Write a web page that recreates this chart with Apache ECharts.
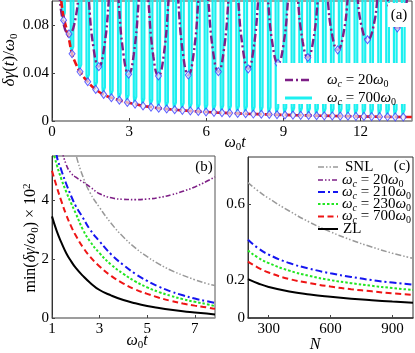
<!DOCTYPE html>
<html>
<head>
<meta charset="utf-8">
<script src="https://cdn.jsdelivr.net/npm/echarts@6/dist/echarts.min.js"></script>
<style>
  html, body { margin: 0; padding: 0; background: #fff; }
  #chart { width: 415px; height: 353px; }
</style>
</head>
<body>
<div id="chart"></div>
<script>
  // ---- panel (a): delta gamma(t)/omega0 versus omega0 t ----
  // dips of the wc = 700 w0 curve (cyan)
  const cyanDipT = [0.45, 0.78, 1.09, 1.39, 1.70, 2.01, 2.31, 2.62, 2.93, 3.23, 3.54, 3.85, 4.15, 4.46, 4.77,
    5.07, 5.38, 5.69, 5.99, 6.30, 6.61, 6.91, 7.22, 7.53, 7.83, 8.14, 8.45, 8.75, 9.06, 9.37, 9.67, 9.98,
    10.29, 10.59, 10.90, 11.21, 11.51, 11.82, 12.13, 12.43, 12.74, 13.05, 13.35, 13.66];
  const cyanDipMin = [0.084, 0.056, 0.041, 0.0327, 0.0263, 0.0221, 0.0194, 0.0173, 0.0155, 0.0141, 0.0126, 0.0116,
    0.0107, 0.0100, 0.0094, 0.0089, 0.0084, 0.0079, 0.0075, 0.0072, 0.0069, 0.0066, 0.0063, 0.0061, 0.0058,
    0.0056, 0.0054, 0.0052, 0.0050, 0.0049, 0.0047, 0.0046, 0.0044, 0.0043, 0.0042, 0.0041, 0.0040, 0.0039,
    0.0038, 0.0037, 0.0036, 0.0035, 0.0034, 0.0033];
  // profile of one dip (offset from the dip, rise above its minimum); the curve leaves the frame between dips
  const cyanProfileDt = [-0.056, -0.048, -0.028, 0, 0.028, 0.048, 0.056];
  const cyanProfileRise = [0.12, 0.006, 0.0015, 0, 0.0015, 0.006, 0.12];

  // wc = 20 w0 (purple dash-dot)
  const purpleAT = [0.08, 0.26, 0.46, 0.66, 0.86, 1.06, 1.24, 1.42, 1.62, 1.82, 2.02, 2.22, 2.40, 2.58, 2.78, 2.98,
    3.18, 3.38, 3.56, 3.74, 3.94, 4.14, 4.34, 4.54, 4.72, 4.90, 5.10, 5.30, 5.50, 5.70, 5.88, 6.07, 6.27, 6.47,
    6.67, 6.87, 7.05, 7.23, 7.43, 7.63, 7.83, 8.03, 8.21, 8.39, 8.59, 8.79, 8.99, 9.19, 9.37, 9.55, 9.75, 9.95,
    10.15, 10.35, 10.53, 10.71, 10.91, 11.11, 11.31, 11.51, 11.69, 11.87, 12.07, 12.27, 12.47, 12.67, 12.85,
    13.03, 13.23, 13.43, 13.63, 13.83, 14.0];
  const purpleAV = [0.16, 0.112, 0.080, 0.0726, 0.080, 0.112, 0.16, 0.104, 0.060, 0.0453, 0.060, 0.104, 0.16,
    0.103, 0.0555, 0.039, 0.0555, 0.103, 0.16, 0.103, 0.054, 0.0375, 0.054, 0.103, 0.16, 0.103, 0.055, 0.0383,
    0.055, 0.103, 0.16, 0.103, 0.057, 0.0411, 0.057, 0.103, 0.16, 0.104, 0.059, 0.0434, 0.059, 0.104, 0.16,
    0.104, 0.062, 0.048, 0.062, 0.104, 0.16, 0.105, 0.066, 0.0529, 0.066, 0.105, 0.16, 0.105, 0.070, 0.0593,
    0.070, 0.105, 0.16, 0.106, 0.076, 0.0677, 0.076, 0.106, 0.16, 0.107, 0.084, 0.0775, 0.084, 0.107, 0.16];
  const purpleDipT = [0.66, 1.82, 2.98, 4.14, 5.30, 6.47, 7.63, 8.79, 9.95, 11.11, 12.27, 13.43];
  const purpleDipMin = [0.0726, 0.0453, 0.039, 0.0375, 0.0383, 0.0411, 0.0434, 0.048, 0.0529, 0.0593, 0.0677, 0.0775];

  // envelope (red dashed)
  const redAT = [0.36, 0.44, 0.55, 0.66, 0.78, 0.9, 1.09, 1.39, 1.7, 2.0, 2.32, 2.64, 2.94, 3.26, 3.55, 3.85, 4.13,
    5, 6, 7, 8, 9, 10, 11, 12, 13, 14];
  const redAV = [0.1, 0.088, 0.078, 0.068, 0.056, 0.049, 0.041, 0.0327, 0.0263, 0.0221, 0.0193, 0.0172, 0.0154,
    0.014, 0.0125, 0.0116, 0.0107, 0.009, 0.0075, 0.0065, 0.0057, 0.0051, 0.0046, 0.0042, 0.0038, 0.0035, 0.0033];

  const xTicksA = ['0', '3', '6', '9', '12'];
  const yTicksA = ['0', '0.04', '0.08'];

  // ---- panel (b): min(delta gamma / w0) x 10^2 versus w0 t ----
  const tB = [1, 1.2, 1.4, 1.6, 1.8, 2, 2.3, 2.6, 3, 3.5, 4, 4.5, 5, 5.5, 6, 6.5, 7, 7.5, 7.85];
  const snlB = [11, 9.5, 8.2, 7.1, 6.2, 5.55, 4.8, 4.25, 3.75, 3.2, 2.75, 2.38, 2.08, 1.83, 1.62, 1.45, 1.3, 1.17, 1.1];
  const w20B = [8.0, 6.8, 5.8, 5.2, 4.92, 4.78, 4.62, 4.45, 4.22, 4.08, 4.03, 4.02, 4.04, 4.09, 4.18, 4.3, 4.45, 4.64, 4.79];
  const w210B = [6.6, 5.5, 5.0, 4.55, 4.15, 3.8, 3.4, 3.0, 2.6, 2.15, 1.8, 1.5, 1.26, 1.06, 0.9, 0.77, 0.66, 0.57, 0.51];
  const w230B = [5.8, 5.2, 4.7, 4.28, 3.9, 3.55, 3.0, 2.6, 2.2, 1.8, 1.5, 1.24, 1.04, 0.88, 0.75, 0.64, 0.55, 0.47, 0.40];
  const w700B = [5.0, 4.45, 3.95, 3.5, 3.12, 2.8, 2.4, 2.08, 1.75, 1.42, 1.17, 0.97, 0.82, 0.69, 0.58, 0.49, 0.42, 0.36, 0.31];
  const zlB = [3.45, 2.95, 2.55, 2.2, 1.93, 1.7, 1.43, 1.2, 0.95, 0.76, 0.61, 0.5, 0.41, 0.34, 0.28, 0.23, 0.19, 0.15, 0.12];
  const xTicksB = ['1', '3', '5', '7'];
  const yTicksB = ['0', '2', '4'];

  // ---- panel (c): same quantity versus N ----
  const nC = [200, 250, 300, 400, 500, 600, 700, 800, 900, 1000];
  const snlC = [0.715, 0.67, 0.632, 0.565, 0.505, 0.455, 0.412, 0.375, 0.342, 0.315];
  const w210C = [0.413, 0.368, 0.335, 0.29, 0.26, 0.236, 0.217, 0.2, 0.187, 0.176];
  const w230C = [0.356, 0.318, 0.29, 0.25, 0.222, 0.2, 0.184, 0.17, 0.158, 0.148];
  const w700C = [0.298, 0.265, 0.24, 0.206, 0.184, 0.166, 0.152, 0.141, 0.13, 0.122];
  const zlC = [0.205, 0.182, 0.164, 0.14, 0.124, 0.112, 0.102, 0.094, 0.087, 0.081];
  const xTicksC = ['300', '600', '900'];
  const yTicksC = ['0', '0.2', '0.6'];

  const F = '"Liberation Serif", "DejaVu Serif", serif';
  const C = {
    cyan: '#1CF0F0', purple: '#7E1F86', red: '#EE1515', blue: '#1515F0',
    green: '#22E622', gray: '#999999', black: '#000000', diamond: '#3B3BFF'
  };

  function zip(xs, ys) { return xs.map((x, i) => [x, ys[i]]); }
  function pick(list) {
    return function (v) {
      for (const s of list) if (Math.abs(parseFloat(s) - v) < 1e-9) return s;
      return '';
    };
  }

  // cyan oscillation: the read dip profile placed at every read minimum
  const cyanLine = [];
  cyanDipT.forEach((t, i) => {
    cyanProfileDt.forEach((dt, j) => cyanLine.push([t + dt, cyanDipMin[i] + cyanProfileRise[j]]));
  });
  const diamonds = zip(cyanDipT, cyanDipMin).concat(zip(purpleDipT, purpleDipMin));

  function xAxis(grid, min, max, interval, labels, lineColor) {
    return {
      type: 'value', gridIndex: grid, min: min, max: max, interval: interval,
      axisLine: { show: true, lineStyle: { color: lineColor, width: 1.5 } },
      axisTick: { inside: true, length: 3, lineStyle: { color: '#444' }, customValues: labels.map(Number) },
      axisLabel: { customValues: labels.map(Number), formatter: pick(labels), fontFamily: F, fontSize: 15, color: '#000', margin: 4 },
      splitLine: { show: false }
    };
  }
  function yAxis(grid, min, max, interval, labels) {
    return {
      type: 'value', gridIndex: grid, min: min, max: max, interval: interval,
      axisLine: { show: true, lineStyle: { color: '#333', width: 1 } },
      axisTick: { inside: true, length: 3, lineStyle: { color: '#444' }, customValues: labels.map(Number) },
      axisLabel: { customValues: labels.map(Number), formatter: pick(labels), fontFamily: F, fontSize: 15, color: '#000', margin: 3 },
      splitLine: { show: false }
    };
  }
  function line(xi, data, color, width, type, z) {
    return {
      type: 'line', xAxisIndex: xi, yAxisIndex: xi, data: data, showSymbol: false, symbol: 'none',
      smooth: true, clip: true, z: z || 2, lineStyle: { color: color, width: width, type: type }
    };
  }

  function makeRich(size) {
    const sub = Math.round(size * 0.66);
    return {
      m: { fontFamily: F, fontSize: size, fontStyle: 'italic', lineHeight: size + 3, fill: '#000', color: '#000' },
      r: { fontFamily: F, fontSize: size, lineHeight: size + 3, fill: '#000', color: '#000' },
      s: { fontFamily: F, fontSize: sub, lineHeight: sub, verticalAlign: 'bottom', fill: '#000', color: '#000' },
      si: { fontFamily: F, fontSize: sub, fontStyle: 'italic', lineHeight: sub, verticalAlign: 'bottom', fill: '#000', color: '#000' },
      p: { fontFamily: F, fontSize: sub, lineHeight: sub, verticalAlign: 'top', fill: '#000', color: '#000' }
    };
  }
  function txt(x, y, text, rot, align, size) {
    return {
      type: 'text', x: x, y: y, rotation: rot || 0, z: 100,
      style: {
        text: text, rich: makeRich(size || 15), fill: '#000', font: (size || 15) + 'px ' + F,
        align: align || 'center', verticalAlign: 'middle',
        textAlign: align || 'center', textVerticalAlign: 'middle'
      }
    };
  }
  function legLine(x1, x2, y, color, width, dash) {
    return {
      type: 'line', z: 100, shape: { x1: x1, y1: y, x2: x2, y2: y },
      style: { stroke: color, lineWidth: width, lineDash: dash || null }
    };
  }

  const chart = echarts.init(document.getElementById('chart'), null, { renderer: 'canvas' });
  chart.setOption({
    animation: false,
    backgroundColor: '#fff',
    grid: [
      { left: 52, top: 1, width: 360, height: 120, show: true, borderColor: '#444', borderWidth: 1 },
      { left: 52, top: 156, width: 163, height: 162, show: true, borderColor: '#555', borderWidth: 1 },
      { left: 248, top: 157, width: 165, height: 161, show: true, borderColor: '#333', borderWidth: 1 }
    ],
    xAxis: [
      xAxis(0, 0, 14, 3, xTicksA, '#999'),
      xAxis(1, 1, 7.85, 1, xTicksB, '#999'),
      xAxis(2, 200, 1000, 100, xTicksC, '#333')
    ],
    yAxis: [
      yAxis(0, 0, 0.1, 0.04, yTicksA),
      yAxis(1, 0, 5.5, 2, yTicksB),
      yAxis(2, 0, 0.85, 0.2, yTicksC)
    ],
    series: [
      Object.assign(line(0, cyanLine, C.cyan, 2.2, 'solid', 1), { smooth: false }),
      line(0, zip(purpleAT, purpleAV), C.purple, 2.4, [8, 3, 2, 3], 3),
      line(0, zip(redAT, redAV), C.red, 2.6, [7, 3], 4),
      {
        type: 'scatter', xAxisIndex: 0, yAxisIndex: 0, data: diamonds, symbol: 'diamond',
        symbolSize: [6, 8], z: 5, clip: true,
        itemStyle: { color: 'rgba(225,238,255,0.85)', borderColor: C.diamond, borderWidth: 1 }
      },

      line(1, zip(tB, snlB), C.gray, 1.5, [6, 2, 1.5, 2, 1.5, 2]),
      line(1, zip(tB, w20B), C.purple, 1.6, [5, 2, 1.5, 2, 1.5, 2]),
      line(1, zip(tB, w210B), C.blue, 2, [7, 3, 2, 3]),
      line(1, zip(tB, w230B), C.green, 2, [2.5, 2]),
      line(1, zip(tB, w700B), C.red, 2, [6, 3.5]),
      line(1, zip(tB, zlB), C.black, 2, 'solid'),

      line(2, zip(nC, snlC), C.gray, 1.5, [6, 2, 1.5, 2, 1.5, 2]),
      line(2, zip(nC, w210C), C.blue, 2, [7, 3, 2, 3]),
      line(2, zip(nC, w230C), C.green, 2, [2.5, 2]),
      line(2, zip(nC, w700C), C.red, 2, [6, 3.5]),
      line(2, zip(nC, zlC), C.black, 2, 'solid')
    ],
    graphic: [
      // panel (a) legend and label boxes
      { type: 'rect', z: 90, shape: { x: 277, y: 63, width: 134, height: 41 }, style: { fill: '#fff' } },
      { type: 'rect', z: 90, shape: { x: 388, y: 3, width: 23, height: 24 }, style: { fill: '#fff' } },
      legLine(285, 312, 80, C.purple, 2.4, [8, 3, 2, 3]),
      legLine(285, 312, 98, C.cyan, 3),
      txt(327, 80, '{m|ω}{si|c}{r| = 20}{m|ω}{s|0}', 0, 'left'),
      txt(327, 98, '{m|ω}{si|c}{r| = 700}{m|ω}{s|0}', 0, 'left'),
      txt(399, 15, '{r|(a)}'),
      txt(10, 60, '{m|δγ}{r|(}{m|t}{r|)/}{m|ω}{s|0}', Math.PI / 2, 'center', 17),
      txt(235, 143, '{m|ω}{s|0}{m|t}', 0, 'center', 16),

      // panel (b)
      txt(204, 167, '{r|(b)}'),
      txt(31, 238, '{r|min(}{m|δγ}{r|/}{m|ω}{s|0}{r|) × 10}{p|2}', Math.PI / 2, 'center', 16),
      txt(137, 341, '{m|ω}{s|0}{m|t}', 0, 'center', 16),

      // panel (c)
      txt(402, 166, '{r|(c)}'),
      txt(315, 345, '{m|N}', 0, 'center', 16),
      legLine(318, 338, 167, C.gray, 1.5, [6, 2, 1.5, 2, 1.5, 2]),
      legLine(318, 338, 180, C.purple, 1.6, [5, 2, 1.5, 2, 1.5, 2]),
      legLine(318, 338, 192, C.blue, 2, [7, 3, 2, 3]),
      legLine(318, 338, 204, C.green, 2, [2.5, 2]),
      legLine(318, 338, 216.5, C.red, 2, [6, 3.5]),
      legLine(318, 338, 229, C.black, 2),
      txt(345, 167, '{r|SNL}', 0, 'left'),
      txt(342, 180, '{m|ω}{si|c}{r| = 20}{m|ω}{s|0}', 0, 'left'),
      txt(342, 192, '{m|ω}{si|c}{r| = 210}{m|ω}{s|0}', 0, 'left'),
      txt(342, 204, '{m|ω}{si|c}{r| = 230}{m|ω}{s|0}', 0, 'left'),
      txt(342, 216.5, '{m|ω}{si|c}{r| = 700}{m|ω}{s|0}', 0, 'left'),
      txt(343, 229, '{r|ZL}', 0, 'left')
    ]
  });
</script>
</body>
</html>
